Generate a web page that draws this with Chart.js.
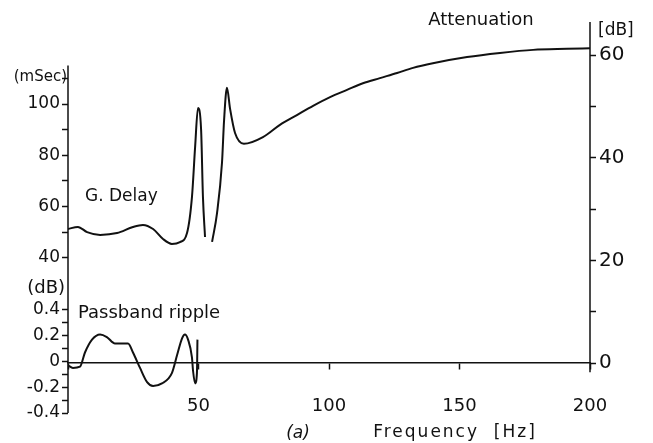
<!DOCTYPE html>
<html>
<head>
<meta charset="utf-8">
<script src="https://cdn.jsdelivr.net/npm/chart.js@4.4.1/dist/chart.umd.min.js"></script>
<style>
  html, body { margin: 0; padding: 0; background: #fff; }
  #wrap { width: 653px; height: 443px; }
</style>
</head>
<body>
<div id="wrap"><canvas id="filterChart"></canvas></div>
<script>
// group delay in the passband (mSec, left upper scale)
const delayHz = [0, 3.8, 7.3, 12.3, 18.8, 24.9, 28.7, 32.6, 36.4, 39.8, 42.9, 45.6, 47.5, 48.7, 49.8, 51.0, 51.7, 52.5];
const delayMs = [51.3, 52.1, 50.1, 49.0, 49.7, 52.1, 52.9, 51.3, 47.4, 45.5, 46.2, 49.7, 63.8, 83.2, 98.4, 89.9, 63.8, 48.2];

// passband ripple (dB, left lower scale)
const rippleHz = [0, 1.9, 4.6, 6.5, 9.2, 12.3, 14.9, 18.0, 23.0, 24.9, 27.6, 30.3, 32.6, 36.0, 39.8, 41.8, 43.7, 44.8, 46.0, 47.5, 47.9, 48.7, 49.4, 49.6];
const rippleDb = [-0.03, -0.05, -0.04, 0.07, 0.17, 0.21, 0.19, 0.14, 0.14, 0.07, -0.05, -0.16, -0.19, -0.17, -0.09, 0.05, 0.18, 0.21, 0.17, 0.03, -0.07, -0.17, -0.09, 0.17];

// stopband attenuation (dB, right scale)
const attenHz = [55.2, 57.1, 59.0, 59.8, 60.9, 62.1, 64.0, 67.4, 74.7, 81.2, 87.7, 93.9, 100.4, 106.9, 113.0, 119.5, 126.1, 132.2, 139.8, 152.9, 165.5, 178.2, 191.2, 200];
const attenDb = [23.6, 29.2, 39.0, 47.3, 53.6, 49.5, 44.8, 42.7, 44.0, 46.4, 48.3, 50.1, 51.8, 53.2, 54.5, 55.5, 56.5, 57.5, 58.4, 59.6, 60.4, 61.0, 61.2, 61.3];

// tick marks and which of them carry a label
const freqTicks = [0, 50, 100, 150, 200];
const freqLabels = [50, 100, 150, 200];
const delayTicks = [40, 50, 60, 70, 80, 90, 100, 110];
const delayLabels = [40, 60, 80, 100];
const rippleTicks = [-0.4, -0.3, -0.2, -0.1, 0, 0.1, 0.2, 0.3, 0.4];
const rippleLabels = [-0.4, -0.2, 0, 0.2, 0.4];
const attenTicks = [0, 10, 20, 30, 40, 50, 60];
const attenLabels = [0, 20, 40, 60];

const INK = "#111";
const FONT = "DejaVu Sans";

const toPoints = (xs, ys) => xs.map((x, i) => ({ x: x, y: ys[i] }));
const setTicks = (list) => (scale) => { scale.ticks = list.map(v => ({ value: v })); };
const labelIf = (list) => (v) => list.includes(v) ? String(v) : "";

const lineStyle = {
    borderColor: INK,
    borderWidth: 2,
    pointRadius: 0,
    fill: false,
    cubicInterpolationMode: "monotone"
};

// axis lines that only span part of the plot, plus the free text
const notesPlugin = {
    id: "notes",
    afterDraw(chart) {
        const { ctx, chartArea, scales } = chart;
        ctx.save();
        ctx.strokeStyle = INK;
        ctx.lineWidth = 1.5;
        ctx.beginPath();
        ctx.moveTo(chartArea.left, scales.yDelay.getPixelForValue(115));
        ctx.lineTo(chartArea.left, scales.yRipple.getPixelForValue(-0.4));
        ctx.moveTo(chartArea.right, chartArea.top);
        ctx.lineTo(chartArea.right, scales.y.getPixelForValue(-1.8));
        ctx.stroke();

        ctx.fillStyle = INK;
        ctx.textBaseline = "middle";
        const put = (txt, x, y, size, align, style) => {
            ctx.font = (style || "") + " " + size + "px '" + FONT + "'";
            ctx.textAlign = align;
            ctx.fillText(txt, x, y);
        };
        put("Attenuation", 481, 20, 18, "center");
        put("[dB]", 598, 31, 17, "left");
        put("(mSec)", 67, 77, 15, "right");
        put("(dB)", 65, 288, 18, "right");
        put("G. Delay", 85, 197, 17, "left");
        put("Passband ripple", 78, 313, 18, "left");
        put("(a)", 298, 434, 17, "center", "italic");
        ctx.letterSpacing = "2px";
        put("Frequency  [Hz]", 455, 433, 17, "center");
        ctx.restore();
    }
};

const tickGrid = { drawOnChartArea: false, tickLength: 6, tickWidth: 1.5, tickColor: INK };

const tickFont = (size) => ({
    color: INK,
    autoSkip: false,
    maxRotation: 0,
    font: { family: FONT, size: size }
});

new Chart(document.getElementById("filterChart"), {
    type: "line",
    data: {
        datasets: [
            Object.assign({ label: "G. Delay", data: toPoints(delayHz, delayMs), yAxisID: "yDelay" }, lineStyle),
            Object.assign({ label: "Passband ripple", data: toPoints(rippleHz, rippleDb), yAxisID: "yRipple" }, lineStyle),
            Object.assign({ label: "Attenuation", data: toPoints(attenHz, attenDb), yAxisID: "y" }, lineStyle)
        ]
    },
    options: {
        responsive: true,
        maintainAspectRatio: false,
        animation: false,
        layout: { padding: { top: 22, bottom: 30, left: 0, right: 0 } },
        plugins: {
            legend: { display: false },
            tooltip: { enabled: false }
        },
        scales: {
            x: {
                type: "linear",
                min: 0,
                max: 200,
                position: { y: 0 },
                afterBuildTicks: setTicks(freqTicks),
                ticks: Object.assign(tickFont(18), { callback: labelIf(freqLabels), padding: 27 }),
                grid: tickGrid,
                border: { display: true, color: INK, width: 1.5 }
            },
            y: {
                position: "right",
                min: -9.74,
                max: 66.43,
                afterBuildTicks: setTicks(attenTicks),
                afterFit: (scale) => { scale.width = 63; },
                ticks: Object.assign(tickFont(20), { callback: labelIf(attenLabels), padding: 3 }),
                grid: tickGrid,
                border: { display: false }
            },
            // the two left scales share one column: delay on top, ripple below
            yDelay: {
                position: "left",
                stack: "left",
                stackWeight: 273,
                weight: 1,
                min: 25.58,
                max: 131.95,
                afterBuildTicks: setTicks(delayTicks),
                afterFit: (scale) => { scale.width = 68; },
                ticks: Object.assign(tickFont(17), { callback: labelIf(delayLabels), padding: 2 }),
                grid: tickGrid,
                border: { display: false }
            },
            yRipple: {
                position: "left",
                stack: "left",
                stackWeight: 118,
                weight: 0,
                min: -0.4,
                max: 0.5165,
                afterBuildTicks: setTicks(rippleTicks),
                afterFit: (scale) => { scale.width = 68; },
                ticks: Object.assign(tickFont(17), { callback: labelIf(rippleLabels), padding: 2 }),
                grid: tickGrid,
                border: { display: false }
            }
        }
    },
    plugins: [notesPlugin]
});
</script>
</body>
</html>
